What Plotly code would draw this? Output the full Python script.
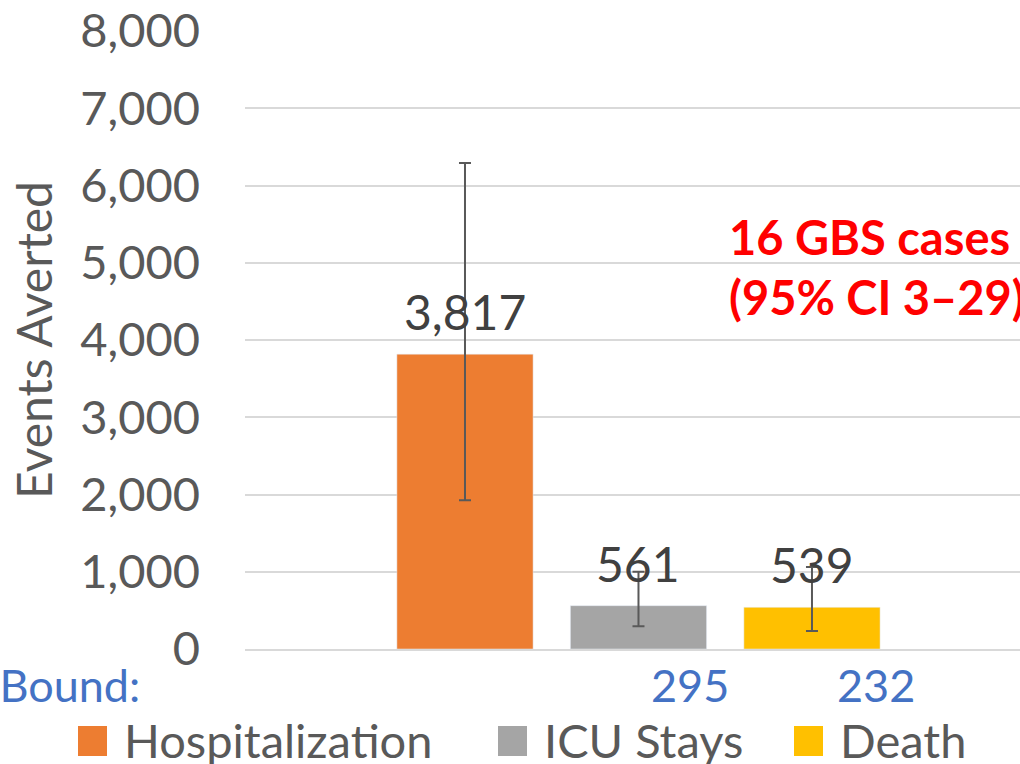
import plotly.graph_objects as go

categories = ["Hospitalization", "ICU Stays", "Death"]
averted = [3817, 561, 539]
upper_ci = [6290, 1000, 1060]
lower_ci = [1925, 295, 232]
colors = ["#ED7D31", "#A5A5A5", "#FFC000"]
note_lines = ["16 GBS cases", "(95% CI 3\u201329)"]

FONT = "Lato"
L, R, T, B = 245, 0, 31, 115
W, H = 1020, 764
PW, PH = W - L - R, H - T - B


def px(x):
    return (x - L) / PW


def py(y):
    return (H - B - y) / PH


fig = go.Figure()
for i, cat in enumerate(categories):
    fig.add_trace(go.Bar(
        x=[cat], y=[averted[i]], name=cat, marker_color=colors[i],
        width=0.785, showlegend=False,
        error_y=dict(type="data", symmetric=False,
                     array=[upper_ci[i] - averted[i]],
                     arrayminus=[averted[i] - lower_ci[i]],
                     color="#595959", thickness=2, width=6),
    ))

ann = []
# value labels above bars
for cat, v in zip(categories, averted):
    ann.append(dict(x=cat, y=v, xref="x", yref="y", text=f"{v:,}", showarrow=False,
                    yanchor="bottom", yshift=12,
                    font=dict(family=FONT, size=48, color="#404040")))

# lower bound labels under the axis
ann.append(dict(x=px(142), y=py(685), xref="paper", yref="paper", text="Lower Bound:",
                showarrow=False, xanchor="right", yanchor="middle",
                font=dict(family=FONT, size=45, color="#4472C4")))
for cat, lo, sh in zip(categories[1:], lower_ci[1:], [52, 64]):
    ann.append(dict(x=cat, y=py(685), xref="x", yref="paper", text=f"{lo:,}",
                    showarrow=False, xshift=sh, yanchor="middle",
                    font=dict(family=FONT, size=45, color="#4472C4")))

# red note
for line, yc in zip(note_lines, [237, 297]):
    ann.append(dict(x=px(727), y=py(yc), xref="paper", yref="paper", text=line,
                    showarrow=False, xanchor="left", yanchor="middle",
                    font=dict(family=FONT, size=47, color="#FF0000", weight="bold")))

# legend built from categories
shapes = []
for cat, col, sx in zip(categories, colors, [78, 498, 794]):
    shapes.append(dict(type="rect", xref="paper", yref="paper",
                       x0=px(sx), x1=px(sx + 29), y0=py(756), y1=py(726),
                       fillcolor=col, line_width=0))
    ann.append(dict(x=px(sx + 44), y=py(740), xref="paper", yref="paper", text=cat,
                    showarrow=False, xanchor="left", yanchor="middle",
                    font=dict(family=FONT, size=47, color="#595959")))

fig.update_layout(
    width=W, height=H,
    margin=dict(l=L, r=R, t=T, b=B),
    plot_bgcolor="white", paper_bgcolor="white",
    annotations=ann, shapes=shapes,
    font=dict(family=FONT, color="#595959"),
)
fig.update_xaxes(range=[-1.268, 3.199], showticklabels=False, showgrid=False,
                 showline=True, linecolor="#D9D9D9", linewidth=2, ticks="")
fig.update_yaxes(range=[0, 8000], dtick=1000, tickformat=",", showgrid=True,
                 gridcolor="#D9D9D9", gridwidth=1.5, zeroline=False, ticks="",
                 ticklabelstandoff=44,
                 tickfont=dict(family=FONT, size=47, color="#595959"),
                 title=dict(text="Events Averted", standoff=12,
                            font=dict(family=FONT, size=48, color="#595959")))

fig.write_html("out.html", config={"displayModeBar": False},
               post_script="document.body.style.margin='0px';")
